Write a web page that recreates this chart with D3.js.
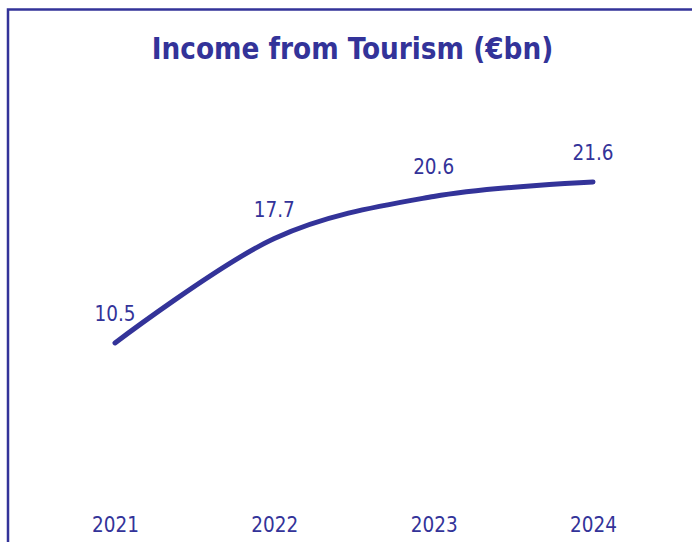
<!DOCTYPE html>
<html>
<head>
<meta charset="utf-8">
<script src="https://cdn.jsdelivr.net/npm/d3@7"></script>
<style>
  html, body { margin: 0; padding: 0; background: #fff; }
  svg { display: block; }
  text { font-family: "DejaVu Sans Condensed", "DejaVu Sans", sans-serif; font-stretch: condensed; fill: #333399; }
</style>
</head>
<body>
<svg id="chart" width="692" height="542"></svg>
<script>
const categories = ["2021", "2022", "2023", "2024"];
const values = [10.5, 17.7, 20.6, 21.6];
const valueLabels = ["10.5", "17.7", "20.6", "21.6"];
const title = "Income from Tourism (€bn)";

const W = 692, H = 542;
const color = "#333399";
const svg = d3.select("#chart");

// frame (extends beyond right/bottom edges)
svg.append("rect")
  .attr("x", 8).attr("y", 9.5)
  .attr("width", W + 20).attr("height", H + 20)
  .attr("fill", "none").attr("stroke", color).attr("stroke-width", 2.5);

svg.append("text")
  .attr("x", 352.5).attr("y", 58.5)
  .attr("text-anchor", "middle")
  .attr("font-size", 29.3).attr("font-weight", "bold")
  .text(title);

const x = d3.scalePoint().domain(categories).range([115, 593]);
const y = d3.scaleLinear().domain([0, 25]).range([495.3, 132.6]);

const data = categories.map((c, i) => ({ c, v: values[i], l: valueLabels[i] }));

const line = d3.line()
  .x(d => x(d.c))
  .y(d => y(d.v))
  .curve(d3.curveCatmullRom.alpha(0));

svg.append("path")
  .datum(data)
  .attr("d", line)
  .attr("fill", "none")
  .attr("stroke", color)
  .attr("stroke-width", 5)
  .attr("stroke-linecap", "round")
  .attr("stroke-linejoin", "round");

svg.selectAll("text.vlabel")
  .data(data).enter().append("text")
  .attr("class", "vlabel")
  .attr("x", d => x(d.c))
  .attr("y", d => y(d.v) - 22)
  .attr("text-anchor", "middle")
  .attr("font-size", 20.5)
  .text(d => d.l);

const xAxis = d3.axisBottom(x).tickSize(0).tickPadding(0);
const gx = svg.append("g")
  .attr("transform", "translate(0,517)")
  .call(xAxis);
gx.select(".domain").remove();
gx.selectAll("text")
  .attr("font-size", 20.5)
  .attr("dy", "0.75em")
  .style("font-family", "'DejaVu Sans Condensed', 'DejaVu Sans', sans-serif")
  .attr("fill", color);
</script>
</body>
</html>
